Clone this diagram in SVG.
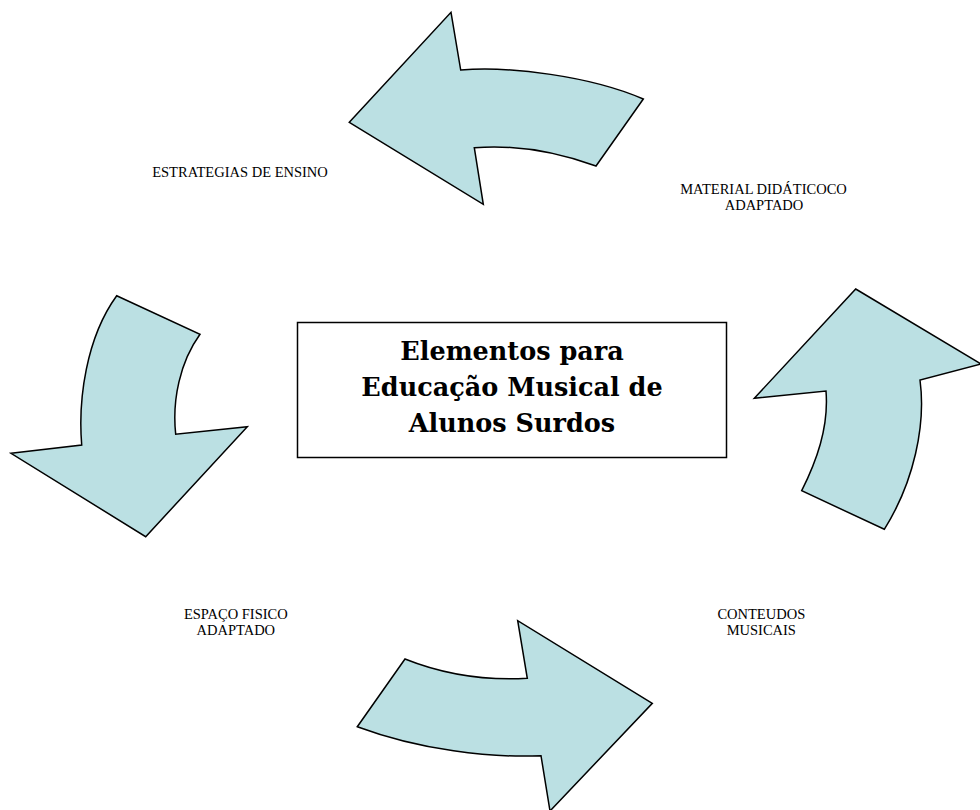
<svg xmlns="http://www.w3.org/2000/svg" width="980" height="810" viewBox="0 0 980 810">
<style>
.arrow{fill:#BBE0E3;stroke:#000;stroke-width:1.5;stroke-linejoin:miter}
.lbl{font-family:"Liberation Serif","Times New Roman",serif;font-size:14.5px;fill:#000;text-anchor:middle}
.title{font-family:"DejaVu Serif",serif;font-weight:bold;font-size:25.5px;fill:#000;text-anchor:middle}
.box{fill:#fff;stroke:#000;stroke-width:1.5}
</style>
<rect width="980" height="810" fill="#fff"/>
<g id="connectors">
<path id="arrow-top" class="arrow" d="M349.3,122.3 L451,12.3 L460.7,70 C510,66 590,76 643.3,99 L596,166 C560,153 520,144 474.3,147.7 L483.3,204.3 Z"/>
<path id="arrow-left" class="arrow" d="M116.7,295.7 L200,334.3 C180,362 172,400 175.7,434.3 L247.3,426.7 L145.7,536.7 L11,453.3 L81.7,445 C78,400 86,338 116.7,295.7 Z"/>
<path id="arrow-right" class="arrow" d="M855.7,289 L981,364 L920,380 C926,425 914,482 884.3,529.3 L801.7,490.7 C816,462 829,428 826,391 L754.3,398.3 Z"/>
<path id="arrow-bottom" class="arrow" d="M405,659 C440,673 480,681 527.3,678.3 L517.7,620.7 L652.3,703.3 L550,811 L541,755.7 C490,758 420,750 357.3,726.7 Z"/>
</g>
<g id="center">
<rect class="box" x="297.5" y="322.5" width="429" height="135"/>
<text class="title" x="512" y="360">Elementos para</text>
<text class="title" x="512" y="396">Educação Musical de</text>
<text class="title" x="512" y="432">Alunos Surdos</text>
</g>
<g id="node-estrategias">
<text class="lbl" x="240" y="176.5">ESTRATEGIAS DE ENSINO</text>
</g>
<g id="node-material">
<text class="lbl" x="763.5" y="194">MATERIAL DIDÁTICOCO</text>
<text class="lbl" x="764" y="210">ADAPTADO</text>
</g>
<g id="node-espaco">
<text class="lbl" x="235.8" y="619.3">ESPAÇO FISICO</text>
<text class="lbl" x="235.8" y="635">ADAPTADO</text>
</g>
<g id="node-conteudos">
<text class="lbl" x="761.3" y="619.3">CONTEUDOS</text>
<text class="lbl" x="761.3" y="635">MUSICAIS</text>
</g>
</svg>
